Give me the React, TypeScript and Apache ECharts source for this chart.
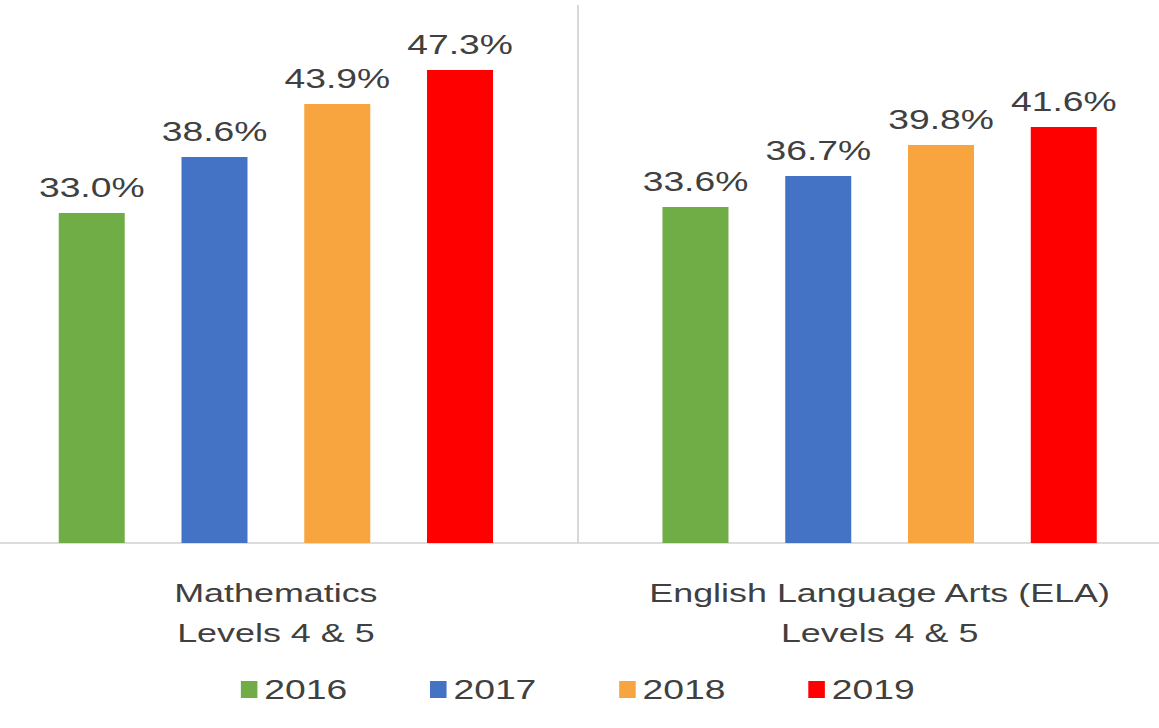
import React, { useEffect, useRef } from "react";
import * as echarts from "echarts";

const categories = ["Mathematics\nLevels 4 & 5", "English Language Arts (ELA)\nLevels 4 & 5"];
const years = ["2016", "2017", "2018", "2019"];
const v2016 = [33.0, 33.6];
const v2017 = [38.6, 36.7];
const v2018 = [43.9, 39.8];
const v2019 = [47.3, 41.6];
const colors = ["#70ad47", "#4472c4", "#f8a540", "#ff0000"];

const S = 1.38;
const W = 1208 / S;

export default function App() {
  const ref = useRef<HTMLDivElement>(null);
  useEffect(() => {
    const chart = echarts.init(ref.current!, null, { renderer: "svg" });
    const font = "Liberation Sans, Arial, sans-serif";
    const data = [v2016, v2017, v2018, v2019];
    chart.setOption({
      animation: false,
      textStyle: { fontFamily: font },
      grid: { left: 0, right: 0, top: 43, bottom: 185 },
      legend: {
        bottom: 20, left: "center", itemWidth: 12, itemHeight: 17, itemGap: 60,
        icon: "rect",
        textStyle: { fontSize: 27, color: "#404040", fontFamily: font },
        data: years,
      },
      xAxis: {
        type: "category", data: categories,
        axisLine: { lineStyle: { color: "#d0d0d0", width: 1.5 } },
        axisTick: { show: false },
        axisLabel: { fontSize: 26, color: "#404040", lineHeight: 40, margin: 30, fontFamily: font },
      },
      yAxis: { type: "value", min: 0, max: 50, show: false, splitLine: { show: false } },
      graphic: [{ type: "line", shape: { x1: W / 2, y1: 5, x2: W / 2, y2: 543 }, style: { stroke: "#d0d0d0", lineWidth: 1.2 } }],
      series: years.map((y, i) => ({
        name: y, type: "bar", data: data[i], barWidth: 66 / S, barGap: "86%", barCategoryGap: "28%",
        itemStyle: { color: colors[i] },
        label: { show: true, position: "top", distance: 12, fontSize: 27, color: "#404040", fontFamily: font,
          formatter: (p: any) => p.value.toFixed(1) + "%" },
      })),
    });
    return () => chart.dispose();
  }, []);
  return (
    <div style={{ position: "fixed", left: 0, top: 0, width: 1159, height: 728, overflow: "hidden", background: "#fff" }}>
      <div ref={ref} style={{ position: "absolute", left: -26, top: 0, width: W, height: 728, transform: `scaleX(${S})`, transformOrigin: "0 0" }} />
    </div>
  );
}
